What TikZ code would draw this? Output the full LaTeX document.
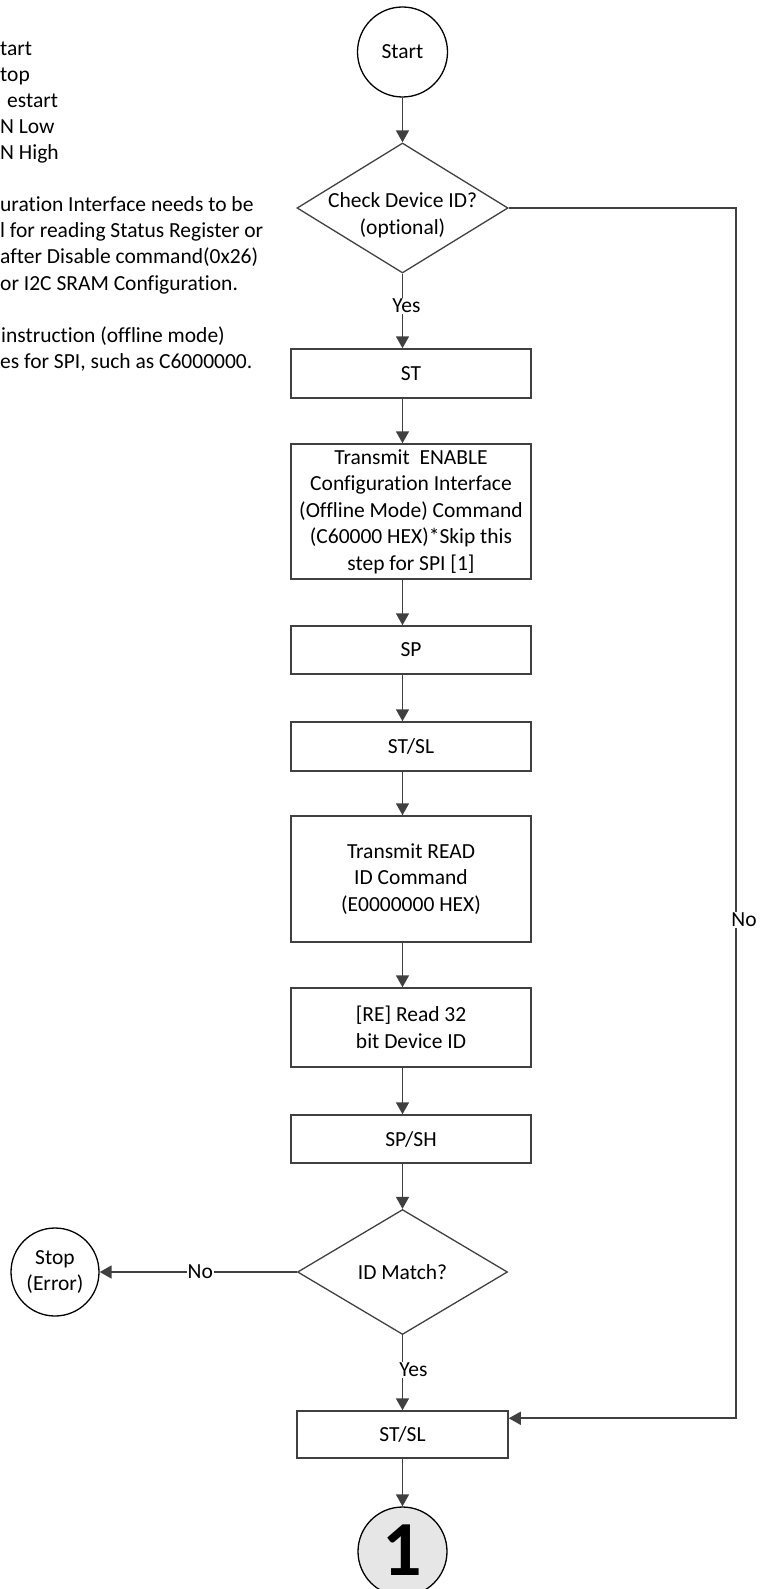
\documentclass[tikz,border=0pt]{standalone}
\usepackage{fontspec}
\setmainfont{Carlito}[Ligatures=NoCommon]
\usetikzlibrary{positioning,arrows.meta,shapes.geometric,calc}
\definecolor{linegray}{HTML}{404040}
\definecolor{onefill}{HTML}{E6E6E6}
\newcommand{\flattext}[1]{\raisebox{-26pt}{\smash{\begin{tabular}{@{}c@{}}#1\end{tabular}}}}
\tikzset{
  flowarrow/.style={-{Triangle[length=12pt,width=13pt]}, line width=1.6pt, draw=linegray},
  procbox/.style={draw=linegray, line width=1.5pt, minimum width=240pt, align=center, inner sep=2pt},
  decision/.style={diamond, aspect=1.62, draw=linegray, line width=1.3pt, minimum width=211pt, minimum height=130pt, inner sep=0pt},
  terminal/.style={circle, draw=black, line width=1.3pt, minimum size=90pt, align=center, inner sep=0pt},
  branchlabel/.style={fill=white, inner sep=1pt},
  legend/.style={anchor=base west, inner sep=0pt}
}

\begin{document}
\begin{tikzpicture}[x=1pt, y=-1pt, every node/.style={font=\fontsize{21.5}{26.5}\selectfont}]
  \useasboundingbox (0,0) rectangle (760,1589);
  % notes on the left, cut at the border
  \foreach \y/\t/\dx in {0/tart/0, 1/top/0, 2/estart/7, 3/N Low/0, 4/N High/0,
      6/uration Interface needs to be/0, 7/l for reading Status Register or/0,
      8/after Disable command(0x26)/0, 9/or I2C SRAM Configuration./0,
      11/instruction (offline mode)/1, 12/{es for SPI, such as C6000000.}/0}
    \node[legend] at (\dx, 56+26*\y) {\t};

  % main flow
  \node[terminal] (start) at (402.5,52) {Start};
  \node[decision] (chk) at (402.5,208) {\flattext{Check Device ID?\\(optional)}};
  \node[procbox, minimum height=49pt] (st) at (411,373.5) {ST};
  \node[procbox, minimum height=135pt] (enable) at (411,511.5) {Transmit\ \ ENABLE\\Configuration Interface\\(Offline Mode) Command\\(C60000 HEX)*Skip this\\step for SPI [1]};
  \node[procbox, minimum height=48pt] (sp) at (411,650) {SP};
  \node[procbox, minimum height=49pt] (stsl) at (411,746.5) {ST/SL};
  \node[procbox, minimum height=126pt] (readcmd) at (411,879) {Transmit READ\\ID Command\\(E0000000 HEX)};
  \node[procbox, minimum height=79pt] (readid) at (411,1027.5) {[RE] Read 32\\bit Device ID};
  \node[procbox, minimum height=48pt] (spsh) at (411,1139) {SP/SH};
  \node[decision, minimum width=210pt, minimum height=125pt] (match) at (402.5,1272) {\raisebox{-1pt}{ID Match?}};
  \node[terminal, minimum size=88pt] (stop) at (55,1272) {Stop\\(Error)};
  \node[procbox, minimum width=211pt, minimum height=47pt] (stsl2) at (402.5,1434.5) {ST/SL};
  \node[terminal, fill=onefill, minimum size=89pt, font=\fontsize{78}{78}\selectfont\bfseries] (one) at (402.5,1551.5) {\raisebox{3pt}{1}};
  \coordinate (rail) at (736,208);

  \draw[flowarrow] (start) -- (chk);
  \draw[flowarrow] (chk.south) -- (chk.south |- st.north) node[branchlabel, pos=0.43, xshift=4pt] {Yes};
  \draw[flowarrow] (st.south -| chk) -- (enable.north -| chk);
  \draw[flowarrow] (enable.south -| chk) -- (sp.north -| chk);
  \draw[flowarrow] (sp.south -| chk) -- (stsl.north -| chk);
  \draw[flowarrow] (stsl.south -| chk) -- (readcmd.north -| chk);
  \draw[flowarrow] (readcmd.south -| chk) -- (readid.north -| chk);
  \draw[flowarrow] (readid.south -| chk) -- (spsh.north -| chk);
  \draw[flowarrow] (spsh.south -| chk) -- (match.north);
  \draw[flowarrow] (match.west) -- (stop.east) node[branchlabel, pos=0.49] {No};
  \draw[flowarrow] (match.south) -- (stsl2.north) node[branchlabel, pos=0.46, xshift=11pt] {Yes};
  \draw[flowarrow] (stsl2) -- (one);
  \draw[flowarrow] (chk.east) -- (rail) |- ([yshift=-8pt]stsl2.north east) node[branchlabel, pos=0.294, xshift=8pt] {No};
\end{tikzpicture}
\end{document}
